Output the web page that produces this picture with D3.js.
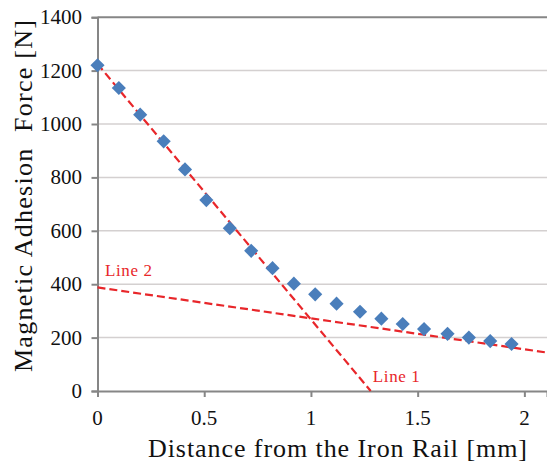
<!DOCTYPE html>
<html>
<head>
<meta charset="utf-8">
<script src="https://cdn.jsdelivr.net/npm/d3@7"></script>
<style>
  body { margin: 0; background: #fff; }
</style>
</head>
<body>
<div id="chart"></div>
<script>
// measured points
const distances = [0, 0.1, 0.2, 0.31, 0.41, 0.51, 0.62, 0.72, 0.82, 0.92,
                   1.02, 1.12, 1.23, 1.33, 1.43, 1.53, 1.64, 1.74, 1.84, 1.94];
const forces = [1220, 1135, 1035, 935, 830, 715, 610, 525, 460, 402,
                362, 327, 297, 271, 251, 232, 214, 200, 187, 176];

// fitted lines, [x, y] ends
const line1 = [[0, 1225], [1.28, 0]];
const line2 = [[0, 388], [2.106, 144]];

const yTicks = [0, 200, 400, 600, 800, 1000, 1200, 1400];
const xTicks = [0, 0.5, 1, 1.5, 2];

const width = 547, height = 464;
const margin = {left: 97.5, right: 0, top: 17.2, bottom: 73};
const serif = 'Liberation Serif';

const x = d3.scaleLinear().domain([0, 2.106]).range([margin.left, width - margin.right]);
const y = d3.scaleLinear().domain([0, 1400]).range([height - margin.bottom, margin.top]);

const svg = d3.select('#chart').append('svg')
    .attr('width', width).attr('height', height)
    .attr('font-family', serif);

// grid
svg.append('g')
    .selectAll('line')
    .data(yTicks.filter(d => d > 0))
    .join('line')
    .attr('x1', x(0)).attr('x2', width)
    .attr('y1', d => y(d)).attr('y2', d => y(d))
    .attr('stroke', d => d === 1400 ? '#868686' : '#d4d0d0')
    .attr('stroke-width', d => d === 1400 ? 2 : 1.5);

// y axis (labels drawn separately)
const yAxis = svg.append('g')
    .attr('transform', `translate(${x(0)},0)`)
    .call(d3.axisLeft(y).tickValues(yTicks).tickSize(6).tickFormat(''));
yAxis.select('.domain').attr('stroke', '#868686').attr('stroke-width', 2);
yAxis.selectAll('.tick line').attr('stroke', '#868686').attr('stroke-width', 2);

svg.append('g')
    .selectAll('text')
    .data(yTicks)
    .join('text')
    .attr('x', 82).attr('y', d => y(d) + 7)
    .attr('text-anchor', 'end')
    .attr('font-family', serif).attr('font-size', 21).attr('fill', '#111')
    .text(d => d);

// x axis
const xAxis = svg.append('g')
    .attr('transform', `translate(0,${y(0)})`)
    .call(d3.axisBottom(x).tickValues(xTicks).tickSize(6).tickFormat(''));
xAxis.select('.domain').attr('stroke', '#868686').attr('stroke-width', 2);
xAxis.selectAll('.tick line').attr('stroke', '#868686').attr('stroke-width', 2);

svg.append('g')
    .selectAll('text')
    .data(xTicks)
    .join('text')
    .attr('x', d => x(d)).attr('y', y(0) + 34)
    .attr('text-anchor', 'middle')
    .attr('font-family', serif).attr('font-size', 21).attr('fill', '#111')
    .text(d => d);

// fit lines
const lineGen = d3.line().x(d => x(d[0])).y(d => y(d[1]));
svg.append('g')
    .selectAll('path')
    .data([line1, line2])
    .join('path')
    .attr('d', lineGen)
    .attr('fill', 'none')
    .attr('stroke', '#e8262a')
    .attr('stroke-width', 2.2)
    .attr('stroke-dasharray', '8,4');

// markers
svg.append('g')
    .selectAll('path')
    .data(distances.map((d, i) => [d, forces[i]]))
    .join('path')
    .attr('d', d3.symbol(d3.symbolSquare, 100))
    .attr('transform', d => `translate(${x(d[0])},${y(d[1])}) rotate(45)`)
    .attr('fill', '#4a7ebb');

// line labels
svg.append('text').attr('x', x(0.035)).attr('y', y(430))
    .attr('font-size', 17).attr('fill', '#e8262a')
    .attr('textLength', 47).attr('lengthAdjust', 'spacing').text('Line 2');
svg.append('text').attr('x', x(1.29)).attr('y', y(32))
    .attr('font-size', 17).attr('fill', '#e8262a')
    .attr('textLength', 47).attr('lengthAdjust', 'spacing').text('Line 1');

// axis titles
svg.append('text')
    .attr('x', 148).attr('y', 457)
    .attr('font-size', 26).attr('fill', '#111')
    .attr('textLength', 379).attr('lengthAdjust', 'spacing')
    .text('Distance from the Iron Rail [mm]');
svg.append('text')
    .attr('transform', 'translate(32,372) rotate(-90)')
    .attr('font-size', 26).attr('fill', '#111')
    .attr('textLength', 352).attr('lengthAdjust', 'spacing')
    .style('white-space', 'pre')
    .text('Magnetic Adhesion  Force [N]');
</script>
</body>
</html>
